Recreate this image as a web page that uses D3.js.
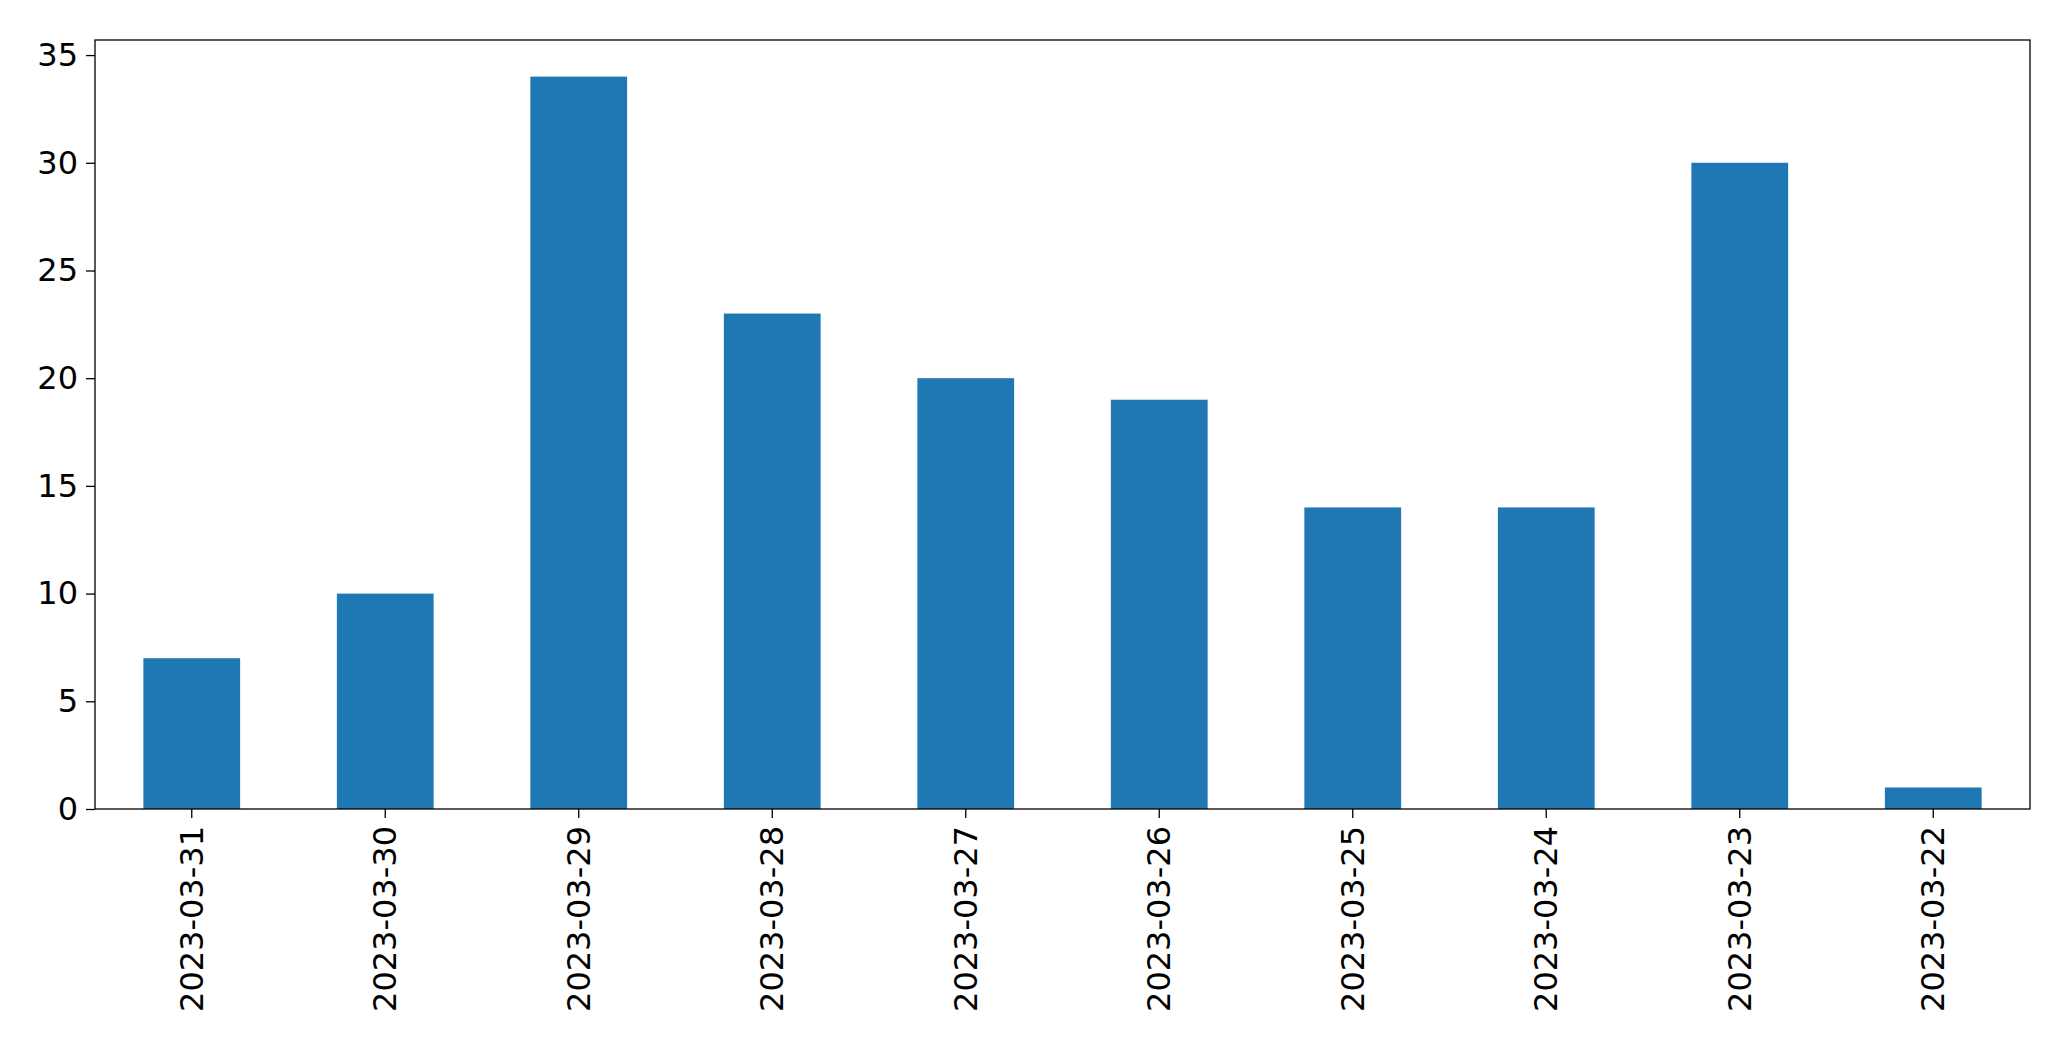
<!DOCTYPE html>
<html><head><meta charset="utf-8">
<script src="https://cdn.jsdelivr.net/npm/d3@7"></script>
<style>body{margin:0;background:#fff}text{font-family:"DejaVu Sans",sans-serif}</style>
</head><body><svg width="2071" height="1061"></svg>
<script>
const dates = ["2023-03-31","2023-03-30","2023-03-29","2023-03-28","2023-03-27","2023-03-26","2023-03-25","2023-03-24","2023-03-23","2023-03-22"]
const counts = [7, 10, 34, 23, 20, 19, 14, 14, 30, 1]
const yTicks = [0, 5, 10, 15, 20, 25, 30, 35]

const plotLeft = 95, plotRight = 2030, plotTop = 40, plotBottom = 809
const svg = d3.select("svg")

let x = d3.scaleBand().domain(dates).range([plotLeft, plotRight]).paddingInner(0.5).paddingOuter(0.25)
let y = d3.scaleLinear().domain([0, 34 * 1.05]).range([plotBottom, plotTop])

svg.selectAll("rect.bar")
    .data(counts)
    .enter()
    .append("rect")
    .attr("class", "bar")
    .attr("x", (d, i) => x(dates[i]))
    .attr("y", d => y(d))
    .attr("width", x.bandwidth())
    .attr("height", d => plotBottom - y(d))
    .style("fill", "#1f77b4")

// y axis
const yAxis = svg.append("g")
    .attr("transform", `translate(${plotLeft},0)`)
    .call(d3.axisLeft(y).tickValues(yTicks).tickSize(9).tickPadding(8))
yAxis.selectAll("text").style("font-size", "32px").style("font-family", "DejaVu Sans")

// x axis
const xAxis = svg.append("g")
    .attr("transform", `translate(0,${plotBottom})`)
    .call(d3.axisBottom(x).tickSize(9).tickPadding(8))
xAxis.selectAll("text")
    .style("font-size", "32px")
    .style("font-family", "DejaVu Sans")
    .attr("text-anchor", "end")
    .attr("transform", "rotate(-90)")
    .attr("x", -17)
    .attr("y", 0)
    .attr("dy", "0.35em")
svg.selectAll(".domain").remove()
svg.selectAll(".tick line").attr("stroke-width", 1.3)

// frame
svg.append("rect")
    .attr("x", plotLeft).attr("y", plotTop)
    .attr("width", plotRight - plotLeft).attr("height", plotBottom - plotTop)
    .style("fill", "none").style("stroke", "black").style("stroke-width", 1.3)
</script></body></html>
